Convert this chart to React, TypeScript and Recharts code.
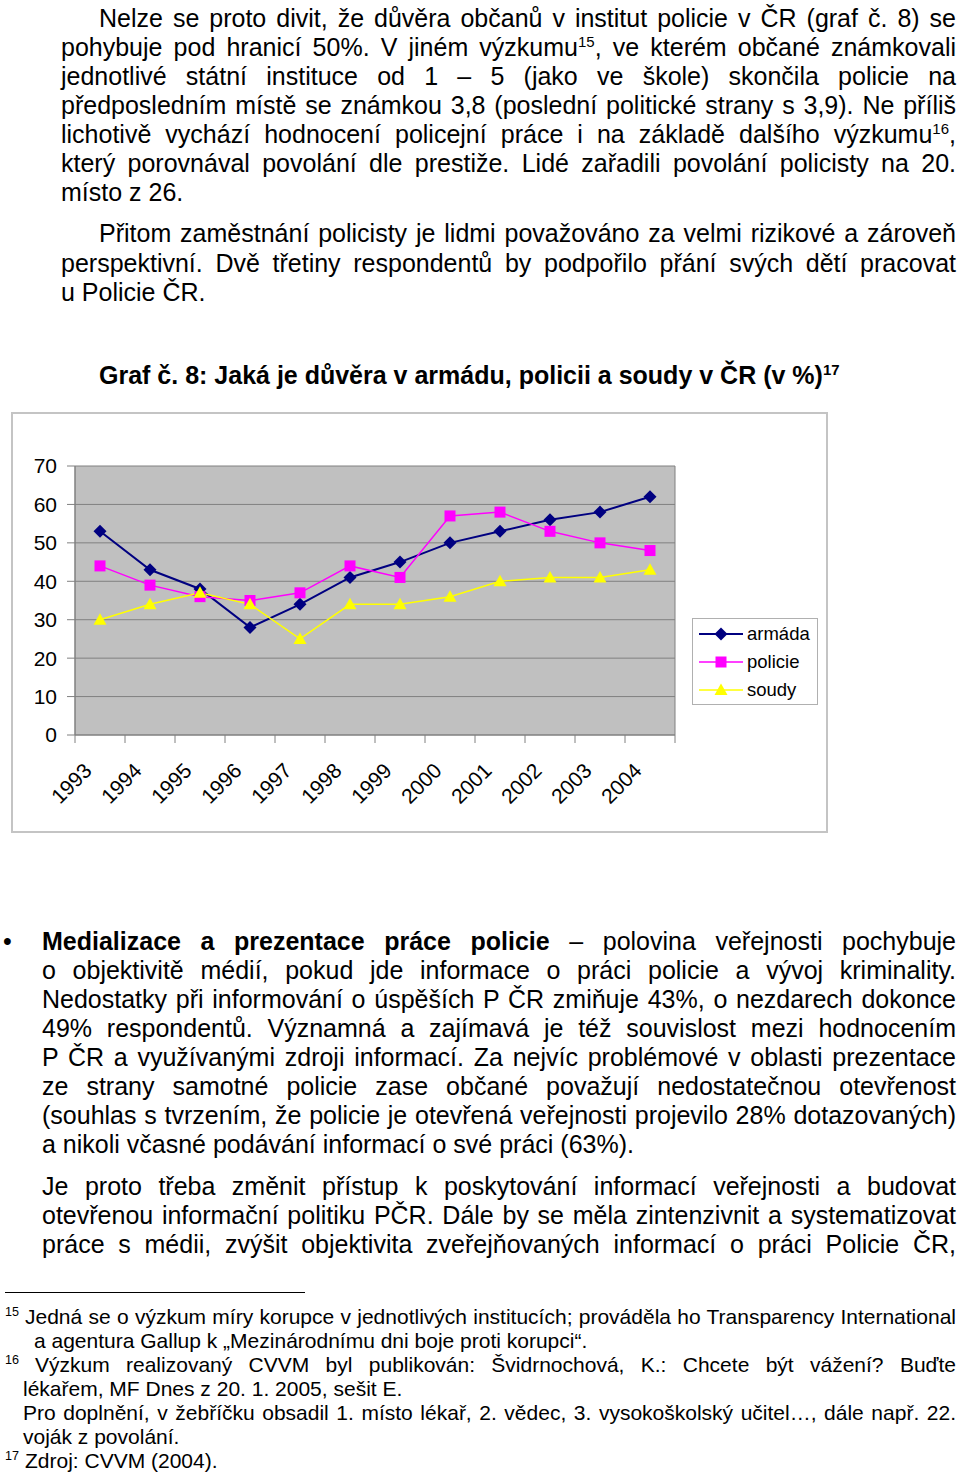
import React from 'react'
import { LineChart, Line, XAxis, YAxis, CartesianGrid } from 'recharts'

const years = ['1993', '1994', '1995', '1996', '1997', '1998', '1999', '2000', '2001', '2002', '2003', '2004']
const armada = [53, 43, 38, 28, 34, 41, 45, 50, 53, 56, 58, 62]
const policie = [44, 39, 36, 35, 37, 44, 41, 57, 58, 53, 50, 48]
const soudy = [30, 34, 37, 34, 25, 34, 34, 36, 40, 41, 41, 43]
const yTicks = [0, 10, 20, 30, 40, 50, 60, 70]

const series = [
  { key: 'armada', name: 'armáda', color: '#000080', shape: 'diamond', width: 2 },
  { key: 'policie', name: 'policie', color: '#FF00FF', shape: 'square', width: 1.5 },
  { key: 'soudy', name: 'soudy', color: '#FFFF00', shape: 'triangle', width: 1.5 },
]

const data = years.map((year, i) => ({ year, armada: armada[i], policie: policie[i], soudy: soudy[i] }))

const FONT = '"Liberation Sans", Arial, sans-serif'

function Marker({ cx, cy, shape, color }: { cx: number; cy: number; shape: string; color: string }) {
  if (shape === 'diamond') {
    return <polygon points={`${cx},${cy - 6.5} ${cx + 6.5},${cy} ${cx},${cy + 6.5} ${cx - 6.5},${cy}`} fill={color} />
  }
  if (shape === 'square') {
    return <rect x={cx - 5.5} y={cy - 5.5} width={11} height={11} fill={color} />
  }
  return <polygon points={`${cx},${cy - 6.5} ${cx + 6.5},${cy + 5} ${cx - 6.5},${cy + 5}`} fill={color} />
}

// year labels rotated 45°, tick marks sit on the category boundaries
function YearTick(props: any) {
  const { x, y, payload, index } = props
  const half = 25
  return (
    <g>
      <line x1={x - half} y1={y} x2={x - half} y2={y + 8} stroke="#808080" />
      {index === years.length - 1 && <line x1={x + half} y1={y} x2={x + half} y2={y + 8} stroke="#808080" />}
      <text
        x={x - 7}
        y={y + 37}
        transform={`rotate(-45, ${x - 7}, ${y + 37})`}
        textAnchor="end"
        fontSize={21}
        fontFamily={FONT}
        fill="#000"
      >
        {payload.value}
      </text>
    </g>
  )
}

function TextLine({ top, left, right = 956, size = 25, lh = 29, justify = true, bold = false, children }: any) {
  return (
    <div
      style={{
        position: 'absolute',
        top,
        left,
        width: right - left,
        fontSize: size,
        lineHeight: `${lh}px`,
        whiteSpace: 'nowrap',
        textAlign: justify ? 'justify' : 'left',
        textAlignLast: justify ? 'justify' : 'left',
        fontWeight: bold ? 'bold' : 'normal',
      }}
    >
      {children}
    </div>
  )
}

const Sup = ({ children }: any) => (
  <sup style={{ fontSize: '0.6em', lineHeight: 0, verticalAlign: 'super' }}>{children}</sup>
)

function TrustChart() {
  return (
    <>
      <div
        style={{
          position: 'absolute',
          left: 11,
          top: 412,
          width: 817,
          height: 421,
          border: '2px solid #c4c4c4',
          boxSizing: 'border-box',
        }}
      />
      <div style={{ position: 'absolute', left: 11, top: 412 }}>
        <LineChart width={817} height={421} data={data} margin={{ top: 54, right: 153, bottom: 0, left: 0 }}>
          <CartesianGrid
            fill="#C0C0C0"
            stroke="#808080"
            verticalCoordinatesGenerator={({ offset }: any) => [offset.left, offset.left + offset.width]}
          />
          <XAxis
            dataKey="year"
            height={98}
            padding={{ left: 25, right: 25 }}
            axisLine={{ stroke: '#808080' }}
            tickLine={false}
            tickSize={0}
            tickMargin={0}
            interval={0}
            tick={<YearTick />}
          />
          <YAxis
            width={64}
            domain={[0, 70]}
            ticks={yTicks}
            axisLine={{ stroke: '#808080' }}
            tickLine={{ stroke: '#808080' }}
            tickSize={8}
            tickMargin={10}
            tick={{ fontSize: 21, fontFamily: FONT, fill: '#000' }}
          />
          {series.map((s) => (
            <Line
              key={s.key}
              dataKey={s.key}
              name={s.name}
              type="linear"
              stroke={s.color}
              strokeWidth={s.width}
              isAnimationActive={false}
              activeDot={false}
              dot={(p: any) => <Marker key={`${s.key}-${p.index}`} cx={p.cx} cy={p.cy} shape={s.shape} color={s.color} />}
            />
          ))}
        </LineChart>
      </div>
      <div
        style={{
          position: 'absolute',
          left: 692,
          top: 618,
          width: 126,
          height: 87,
          border: '1px solid #b0b0b0',
          boxSizing: 'border-box',
          background: '#fff',
          paddingTop: 1,
        }}
      >
        {series.map((s) => (
          <div key={s.key} style={{ display: 'flex', alignItems: 'center', height: 28 }}>
            <svg width={54} height={28} style={{ flex: 'none' }}>
              <line x1={6} y1={14} x2={50} y2={14} stroke={s.color} strokeWidth={s.width} />
              <Marker cx={28} cy={14} shape={s.shape} color={s.color} />
            </svg>
            <span style={{ fontSize: 18.5, fontFamily: FONT }}>{s.name}</span>
          </div>
        ))}
      </div>
    </>
  )
}

export default function App() {
  return (
    <div
      style={{
        position: 'absolute',
        left: 0,
        top: 0,
        width: 960,
        height: 1476,
        background: '#fff',
        color: '#000',
        fontFamily: FONT,
        overflow: 'hidden',
      }}
    >
      <TextLine top={4} left={99}>Nelze se proto divit, že důvěra občanů v institut policie v ČR (graf č. 8) se</TextLine>
      <TextLine top={33} left={61}>pohybuje pod hranicí 50%. V jiném výzkumu<Sup>15</Sup>, ve kterém občané známkovali</TextLine>
      <TextLine top={62} left={61}>jednotlivé státní instituce od 1 – 5 (jako ve škole) skončila policie na</TextLine>
      <TextLine top={91} left={61}>předposledním místě se známkou 3,8 (poslední politické strany s 3,9). Ne příliš</TextLine>
      <TextLine top={120} left={61}>lichotivě vychází hodnocení policejní práce i na základě dalšího výzkumu<Sup>16</Sup>,</TextLine>
      <TextLine top={149} left={61}>který porovnával povolání dle prestiže. Lidé zařadili povolání policisty na 20.</TextLine>
      <TextLine top={178} left={61} justify={false}>místo z 26.</TextLine>

      <TextLine top={219} left={99}>Přitom zaměstnání policisty je lidmi považováno za velmi rizikové a zároveň</TextLine>
      <TextLine top={249} left={61}>perspektivní. Dvě třetiny respondentů by podpořilo přání svých dětí pracovat</TextLine>
      <TextLine top={278} left={61} justify={false}>u Policie ČR.</TextLine>

      <TextLine top={361} left={99} justify={false} bold>
        Graf č. 8: Jaká je důvěra v armádu, policii a soudy v ČR (v %)<Sup>17</Sup>
      </TextLine>

      <TrustChart />

      <TextLine top={927} left={3} justify={false}>•</TextLine>
      <TextLine top={927} left={42}><b>Medializace a prezentace práce policie</b> – polovina veřejnosti pochybuje</TextLine>
      <TextLine top={956} left={42}>o objektivitě médií, pokud jde informace o práci policie a vývoj kriminality.</TextLine>
      <TextLine top={985} left={42}>Nedostatky při informování o úspěších P ČR zmiňuje 43%, o nezdarech dokonce</TextLine>
      <TextLine top={1014} left={42}>49% respondentů. Významná a zajímavá je též souvislost mezi hodnocením</TextLine>
      <TextLine top={1043} left={42}>P ČR a využívanými zdroji informací. Za nejvíc problémové v oblasti prezentace</TextLine>
      <TextLine top={1072} left={42}>ze strany samotné policie zase občané považují nedostatečnou otevřenost</TextLine>
      <TextLine top={1101} left={42}>(souhlas s tvrzením, že policie je otevřená veřejnosti projevilo 28% dotazovaných)</TextLine>
      <TextLine top={1130} left={42} justify={false}>a nikoli včasné podávání informací o své práci (63%).</TextLine>

      <TextLine top={1172} left={42}>Je proto třeba změnit přístup k poskytování informací veřejnosti a budovat</TextLine>
      <TextLine top={1201} left={42}>otevřenou informační politiku PČR. Dále by se měla zintenzivnit a systematizovat</TextLine>
      <TextLine top={1230} left={42}>práce s médii, zvýšit objektivita zveřejňovaných informací o práci Policie ČR,</TextLine>

      <div style={{ position: 'absolute', left: 5, top: 1292, width: 300, height: 1, background: '#000' }} />

      <TextLine top={1305} left={5} size={21} lh={24} justify={false}><Sup>15</Sup></TextLine>
      <TextLine top={1305} left={25} size={21} lh={24}>Jedná se o výzkum míry korupce v jednotlivých institucích; prováděla ho Transparency International</TextLine>
      <TextLine top={1329} left={34} size={21} lh={24} justify={false}>a agentura Gallup k „Mezinárodnímu dni boje proti korupci“.</TextLine>
      <TextLine top={1353} left={5} size={21} lh={24} justify={false}><Sup>16</Sup></TextLine>
      <TextLine top={1353} left={35} size={21} lh={24}>Výzkum realizovaný CVVM byl publikován: Švidrnochová, K.: Chcete být vážení? Buďte</TextLine>
      <TextLine top={1377} left={23} size={21} lh={24} justify={false}>lékařem, MF Dnes z 20. 1. 2005, sešit E.</TextLine>
      <TextLine top={1401} left={23} size={21} lh={24}>Pro doplnění, v žebříčku obsadil 1. místo lékař, 2. vědec, 3. vysokoškolský učitel…, dále např. 22.</TextLine>
      <TextLine top={1425} left={23} size={21} lh={24} justify={false}>voják z povolání.</TextLine>
      <TextLine top={1449} left={5} size={21} lh={24} justify={false}><Sup>17</Sup></TextLine>
      <TextLine top={1449} left={25} size={21} lh={24} justify={false}>Zdroj: CVVM (2004).</TextLine>
    </div>
  )
}
